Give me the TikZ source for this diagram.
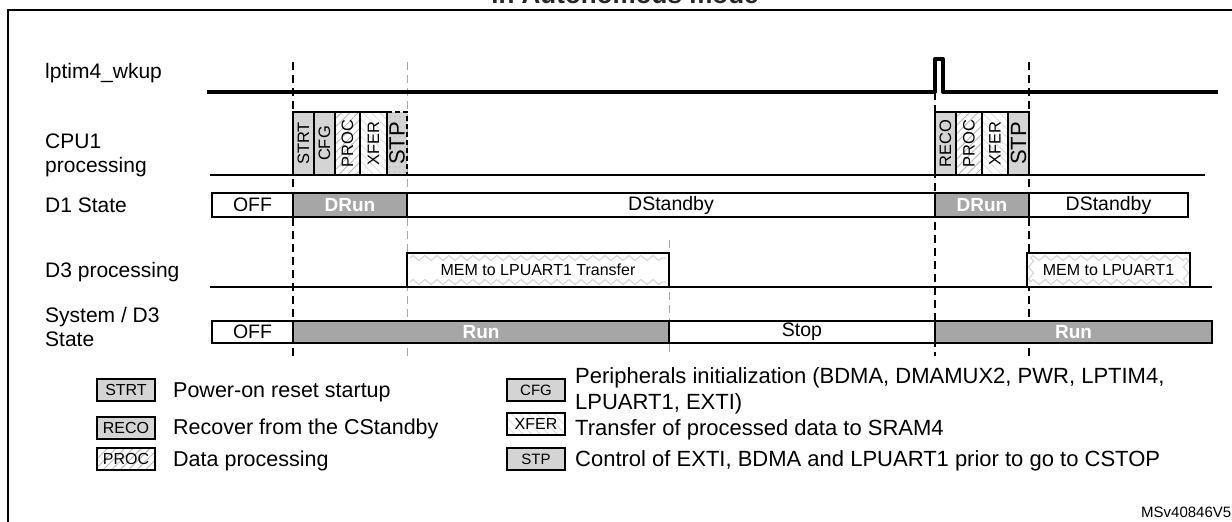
\documentclass[tikz,border=0pt]{standalone}
\usepackage{fontspec}
\setmainfont{Liberation Sans}
\usetikzlibrary{patterns,patterns.meta,decorations.pathmorphing}
\definecolor{dgray}{HTML}{A6A6A6}
\definecolor{lgray}{HTML}{D4D4D4}
\newcommand\myfs[2]{\fontsize{#1}{#2}\selectfont}
% name, x1, y1, x2, y2, box style, text style, text
\newcommand\tbx[8]{\path[#6] (#2,#3) rectangle (#4,#5);
  \node[#7] (#1) at ({(#2+#4)/2},{(#3+#5)/2}) {#8};}
\begin{document}
\begin{tikzpicture}[x=1pt,y=-1pt,
  lbl/.style={anchor=west, align=left, font=\myfs{21}{24}, inner sep=0},
  leg/.style={anchor=west, align=left, font=\myfs{21.5}{26}, inner sep=0},
  bx/.style={draw=black, line width=1.4pt},
  gbox/.style={bx, fill=lgray},
  dbox/.style={bx, fill=dgray},
  wbox/.style={bx, fill=white},
  pbox/.style={bx, preaction={fill=white}, pattern={Lines[angle=45,distance=6pt,line width=0.9pt]}, pattern color=gray!55},
  xbox/.style={bx, preaction={fill=white}, pattern={Lines[angle=-45,distance=6pt,line width=0.9pt]}, pattern color=gray!25},
  rt/.style={rotate=90, inner sep=0, font=\myfs{16.5}{16.5}},
  rtb/.style={rotate=90, inner sep=0, font=\myfs{22}{22}},
  st/.style={inner sep=0, font=\myfs{19.5}{19.5}},
  stw/.style={inner sep=0, font=\bfseries\myfs{19}{19}, text=white},
  lt/.style={inner sep=0, font=\myfs{16}{16}},
  kt/.style={inner sep=0, font=\myfs{16}{16}},
  kgt/.style={inner sep=0, font=\myfs{15}{15}},
  vdk/.style={line width=1.3pt, dash pattern=on 8pt off 5pt},
  vlt/.style={line width=0.9pt, gray!70, dash pattern=on 8pt off 5pt},
  zz/.style={gray!35, line width=1pt, decorate, decoration={zigzag, segment length=12pt, amplitude=2.5pt}},
]
\useasboundingbox (0,0) rectangle (1232,522);
\clip (0,0) rectangle (1232,522);
\path[fill=white] (0,0) rectangle (1232,522);
% frame and clipped title
\draw[line width=2.5pt] (8,10) rectangle (1250,540);
\node[anchor=base, inner sep=0, font=\bfseries\myfs{26}{26}, text=black!85] (title) at (625,3) {in Autonomous mode};

% row labels
\node[lbl] (lwk) at (45,73) {lptim4\_wkup};
\node[lbl] (lcpu) at (45,155) {CPU1\\processing};
\node[lbl] (ld1) at (45,205) {D1 State};
\node[lbl] (ld3) at (45,272) {D3 processing};
\node[lbl] (lsys) at (45,327) {System / D3\\State};

% vertical dashed markers
\coordinate (v1t) at (293,62);  \coordinate (v1b) at (293,356);
\coordinate (v2t) at (407,62);  \coordinate (v2b) at (407,356);
\coordinate (v3t) at (669,240); \coordinate (v3b) at (669,356);
\coordinate (v4t) at (935,92);  \coordinate (v4b) at (935,356);
\coordinate (v5t) at (1029,62); \coordinate (v5b) at (1029,356);
\draw[vdk] (v1t) -- (v1b);
\draw[vlt] (v2t) -- (v2b);
\draw[vlt] (v3t) -- (v3b);
\draw[vdk] (v4t) -- (v4b);
\draw[vdk] (v5t) -- (v5b);

% lptim4_wkup signal
\draw[line width=4pt, line join=round] (207,92) -- (935,92) -- (935,59) -- (943,59) -- (943,92) -- (1218,92);

% baselines
\draw[line width=2pt] (210,175) -- (1205,175);
\draw[line width=2pt] (210,287) -- (1212,287);

% CPU1 processing boxes (first run)
\tbx{c1}{293}{112}{314}{175}{gbox}{rt}{STRT}
\tbx{c2}{314}{112}{335}{175}{gbox}{rt}{CFG}
\tbx{c3}{335}{112}{360}{175}{pbox}{rt}{PROC}
\tbx{c4}{360}{112}{387}{175}{xbox}{rt}{XFER}
\path[preaction={fill=lgray}, pattern={Dots[distance=5pt,radius=0.6pt]}, pattern color=gray!70] (387,112) rectangle (407,175);
\draw[line width=1.4pt] (387,112) -- (387,175) -- (407,175);
\draw[line width=1.4pt, dash pattern=on 5pt off 3pt] (387,112) -- (407,112) -- (407,175);
\node[rtb] (c5) at (397,143.5) {STP};

% CPU1 processing boxes (second run)
\tbx{r1}{935}{112}{956}{175}{gbox}{rt}{RECO}
\tbx{r2}{956}{112}{982}{175}{pbox}{rt}{PROC}
\tbx{r3}{982}{112}{1008}{175}{xbox}{rt}{XFER}
\tbx{r4}{1008}{112}{1029}{175}{gbox}{rtb}{STP}

% D1 state
\tbx{d1}{212}{193}{293}{217}{wbox}{st}{OFF}
\tbx{d2}{293}{193}{407}{217}{dbox}{stw}{DRun}
\tbx{d3}{407}{193}{935}{217}{wbox}{st}{DStandby}
\tbx{d4}{935}{193}{1029}{217}{dbox}{stw}{DRun}
\tbx{d5}{1029}{193}{1188}{217}{wbox}{st}{DStandby}

% D3 processing
\path[wbox] (407,253) rectangle (669,287);
\draw[zz] (410,258) -- (666,258);
\draw[zz] (410,282) -- (666,282);
\draw[line width=1.4pt] (407,253) rectangle (669,287);
\node[lt] (m1) at (538,270) {MEM to LPUART1 Transfer};
\path[wbox] (1027,253) rectangle (1190,287);
\draw[zz] (1030,258) -- (1187,258);
\draw[zz] (1030,282) -- (1187,282);
\draw[zz] (1031,258) -- (1031,282);
\draw[zz] (1186,258) -- (1186,282);
\draw[line width=1.4pt] (1027,253) rectangle (1190,287);
\node[lt] (m2) at (1108.5,270) {MEM to LPUART1};

% System / D3 state
\tbx{s1}{212}{321}{293}{343}{wbox}{st}{OFF}
\tbx{s2}{293}{321}{669}{343}{dbox}{stw}{Run}
\tbx{s3}{669}{321}{935}{343}{wbox}{st}{Stop}
\tbx{s4}{935}{321}{1212}{343}{dbox}{stw}{Run}

% legend
\tbx{k1}{97}{379}{155}{401}{gbox}{kt}{STRT}
\tbx{k2}{97}{417}{155}{439}{gbox}{kt}{RECO}
\tbx{k3}{97}{448}{155}{470}{pbox}{kt}{PROC}
\tbx{k4}{507}{379}{565}{401}{gbox}{kgt}{CFG}
\tbx{k5}{507}{413}{565}{435}{xbox}{kt}{XFER}
\tbx{k6}{507}{448}{565}{470}{gbox}{kgt}{STP}
\node[leg] (t1) at (173,392) {Power-on reset startup};
\node[leg] (t2) at (173,429) {Recover from the CStandby};
\node[leg] (t3) at (173,461) {Data processing};
\node[leg, font=\myfs{22}{26}] (t4) at (575,391) {Peripherals initialization (BDMA, DMAMUX2, PWR, LPTIM4,\\LPUART1, EXTI)};
\node[leg, font=\myfs{22}{26}] (t5) at (575,430) {Transfer of processed data to SRAM4};
\node[leg, font=\myfs{22}{26}] (t6) at (575,461) {Control of EXTI, BDMA and LPUART1 prior to go to CSTOP};

\node[anchor=west, inner sep=0, font=\myfs{15}{15}] (ms) at (1141,512) {MSv40846V5};
\end{tikzpicture}
\end{document}
